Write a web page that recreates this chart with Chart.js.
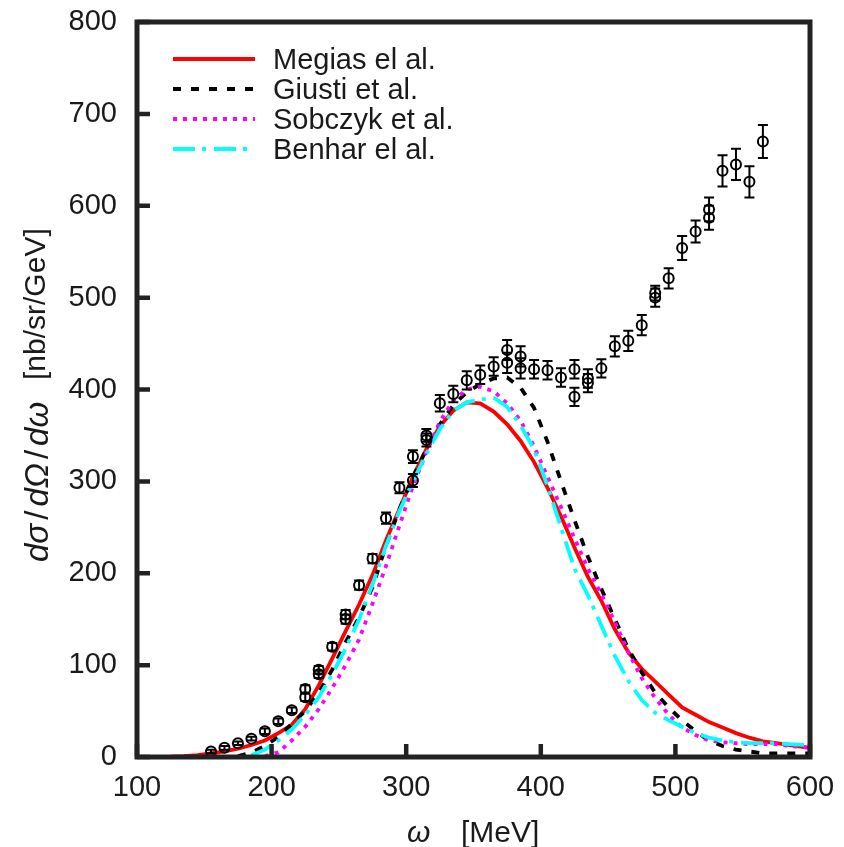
<!DOCTYPE html>
<html>
<head>
<meta charset="utf-8">
<script src="https://cdn.jsdelivr.net/npm/chart.js@4.4.0/dist/chart.umd.min.js"></script>
<style>
  html, body { margin: 0; padding: 0; background: #fff; }
  #caixa { width: 844px; height: 847px; }
</style>
</head>
<body>
<div id="caixa"><canvas id="grafico" width="844" height="847"></canvas></div>
<script>
// curvas teóricas (omega em MeV, secao de choque em nb/sr/GeV)
const omegaMegias = [125,135,145,155,165,175,185,195,205,215,225,235,245,255,265,275,285,295,305,315,325,335,345,355,365,375,385,395,405,415,425,435,445,455,465,475,485,495,505,515,525,535,545,555,565,575,585,600]
const megias = [0.5,1,2,4,6,9,13,18,26,35,52,78,107,137,166,198,236,270,305,335,360,377,386,385,376,362,344,321,293,262,228,196,170,139,114,96,82,68,54,46,38,32,26,21,17,15,13,10]

const omegaGiusti = [175,185,195,205,215,225,235,245,255,265,275,285,295,305,315,325,335,345,355,365,375,385,395,405,415,425,435,445,455,465,475,485,495,505,515,525,535,545,555,565,575,585,600]
const giusti = [1,5,12,22,36,50,70,95,125,152,185,230,270,305,335,362,383,397,406,412,413,402,380,343,300,258,218,183,150,118,92,70,54,40,28,18,12,8,6,4,4,4,4]

const omegaSobczyk = [195,205,215,225,235,245,255,265,275,285,295,305,315,325,335,345,355,365,375,385,395,405,415,425,435,445,455,465,475,485,495,505,515,525,535,545,555,565,575,585,600]
const sobczyk = [1,5,18,33,52,75,100,128,167,208,252,295,332,365,388,400,403,398,385,366,338,305,272,238,205,177,147,114,86,64,46,32,24,18,16,15,14,14,14,12,10]

const omegaBenhar = [185,195,205,215,225,235,245,255,265,275,285,295,305,315,325,335,345,355,365,375,385,395,405,415,425,435,445,455,465,475,485,495,505,515,525,535,545,555,565,575,585,600]
const benhar = [2,8,18,30,46,65,90,118,150,188,230,268,300,330,357,377,386,389,391,381,361,335,295,250,205,176,143,110,83,62,48,40,33,26,21,18,16,15,15,15,14,13]

// dados experimentais
const omegaDados = [155,165,175,185,195,205,215,225,225,235,235,245,255,255,265,275,285,295,305,305,315,315,325,335,345,355,365,375,375,385,385,395,405,415,425,425,435,435,445,455,465,475,485,485,495,505,515,525,525,535,545,555,565]
const dados = [6,10,15,20,28,39,51,65,74,90,95,120,150,155,187,216,260,293,301,327,345,350,385,395,410,416,425,443,429,436,423,422,421,413,422,392,412,407,423,447,453,470,500,505,521,554,572,587,596,638,645,626,670]
const erros = [2,2,2,2,3,3,3,4,4,4,4,4,5,5,5,5,6,6,7,7,7,7,9,9,10,10,10,11,11,11,11,10,10,10,10,10,10,10,10,11,11,11,10,8,11,13,12,13,13,17,17,17,18]

const ticksX = [100,200,300,400,500,600]
const ticksY = [0,100,200,300,400,500,600,700,800]

const fonte = 'Liberation Sans, Arial, Helvetica, sans-serif'
const corEixo = '#222'
const corTexto = '#1a1a1a'

function pares(xs, ys) {
  return xs.map((x, i) => ({ x: x, y: ys[i] }))
}

const curvas = [
  { label: 'Megias el al.', data: pares(omegaMegias, megias), borderColor: '#ff0000', borderWidth: 3.8, borderDash: [] },
  { label: 'Giusti et al.', data: pares(omegaGiusti, giusti), borderColor: '#000000', borderWidth: 3.8, borderDash: [8, 10] },
  { label: 'Sobczyk et al.', data: pares(omegaSobczyk, sobczyk), borderColor: '#ff00ff', borderWidth: 3.8, borderDash: [4, 6] },
  { label: 'Benhar el al.', data: pares(omegaBenhar, benhar), borderColor: '#00ffff', borderWidth: 3.8, borderDash: [22, 7, 4, 8] }
]

const datasets = curvas.map((c, i) => ({
  label: c.label,
  data: c.data,
  borderColor: c.borderColor,
  borderWidth: c.borderWidth,
  borderDash: c.borderDash,
  showLine: true,
  pointRadius: 0,
  tension: 0,
  fill: false,
  order: 4 - i
}))

datasets.push({
  label: 'dados',
  data: pares(omegaDados, dados),
  showLine: false,
  pointRadius: 5,
  pointStyle: 'circle',
  pointBackgroundColor: 'rgba(0,0,0,0)',
  pointBorderColor: '#000',
  pointBorderWidth: 2,
  clip: false,
  order: 0
})

// barras de erro
const barrasErro = {
  id: 'barrasErro',
  afterDatasetsDraw(chart) {
    const ctx = chart.ctx
    const sx = chart.scales.x, sy = chart.scales.y
    ctx.save()
    ctx.strokeStyle = '#000'
    ctx.lineWidth = 2
    omegaDados.forEach((w, i) => {
      const px = sx.getPixelForValue(w)
      const y1 = sy.getPixelForValue(dados[i] + erros[i])
      const y2 = sy.getPixelForValue(dados[i] - erros[i])
      ctx.beginPath()
      ctx.moveTo(px, y1); ctx.lineTo(px, y2)
      ctx.moveTo(px - 5, y1); ctx.lineTo(px + 5, y1)
      ctx.moveTo(px - 5, y2); ctx.lineTo(px + 5, y2)
      ctx.stroke()
    })
    ctx.restore()
  }
}

// moldura, tiques internos, legenda e titulos dos eixos
const moldura = {
  id: 'moldura',
  afterDraw(chart) {
    const ctx = chart.ctx
    const a = chart.chartArea
    const sx = chart.scales.x, sy = chart.scales.y
    ctx.save()
    ctx.strokeStyle = corEixo
    ctx.lineWidth = 5
    ctx.strokeRect(a.left, a.top, a.right - a.left, a.bottom - a.top)
    ctx.lineWidth = 4.5
    ctx.beginPath()
    ticksX.forEach(v => {
      const px = sx.getPixelForValue(v)
      ctx.moveTo(px, a.bottom); ctx.lineTo(px, a.bottom - 13)
    })
    ticksY.forEach(v => {
      const py = sy.getPixelForValue(v)
      ctx.moveTo(a.left, py); ctx.lineTo(a.left + 13, py)
    })
    ctx.stroke()

    // legenda
    ctx.font = '29px ' + fonte
    ctx.textBaseline = 'alphabetic'
    ctx.textAlign = 'left'
    curvas.forEach((c, i) => {
      const yy = 59 + 30 * i
      ctx.strokeStyle = c.borderColor
      ctx.lineWidth = c.borderWidth
      ctx.setLineDash(c.borderDash)
      ctx.beginPath()
      ctx.moveTo(173, yy); ctx.lineTo(255, yy)
      ctx.stroke()
      ctx.setLineDash([])
      ctx.fillStyle = corTexto
      ctx.fillText(c.label, 273, yy + 10)
    })

    // titulo eixo x
    ctx.fillStyle = corTexto
    ctx.font = 'italic 30px ' + fonte
    ctx.fillText('\u03c9', 407, 842)
    ctx.font = '30px ' + fonte
    ctx.fillText('[MeV]', 461, 842)

    // titulo eixo y
    ctx.translate(48, 562)
    ctx.rotate(-Math.PI / 2)
    let x = 0
    const partes = [['d\u03c3', true], ['/', false], ['d\u03a9', true], ['/', false], ['d\u03c9', true]]
    partes.forEach(p => {
      ctx.font = (p[1] ? 'italic ' : '') + '33px ' + fonte
      ctx.fillText(p[0], x, 0)
      x += ctx.measureText(p[0]).width + 4
    })
    ctx.font = '30px ' + fonte
    ctx.fillText('[nb/sr/GeV]', 182, -3)
    ctx.restore()
  }
}

const grafico = new Chart(document.getElementById('grafico'), {
  type: 'scatter',
  data: { datasets: datasets },
  options: {
    responsive: false,
    animation: false,
    devicePixelRatio: 1,
    layout: { padding: { top: 22, right: 34, left: 0, bottom: 0 } },
    plugins: { legend: { display: false }, tooltip: { enabled: false } },
    scales: {
      x: {
        type: 'linear', min: 100, max: 600,
        afterFit(s) { s.height = 90; s.paddingLeft = 0; s.paddingRight = 0 },
        afterBuildTicks(s) { s.ticks = ticksX.map(v => ({ value: v })) },
        grid: { display: false, drawTicks: false },
        border: { display: false },
        ticks: { padding: 14, color: corTexto, font: { family: fonte, size: 29 }, maxRotation: 0 }
      },
      y: {
        type: 'linear', min: 0, max: 800,
        afterFit(s) { s.width = 137; s.paddingTop = 0; s.paddingBottom = 0 },
        afterBuildTicks(s) { s.ticks = ticksY.map(v => ({ value: v })) },
        grid: { display: false, drawTicks: false },
        border: { display: false },
        ticks: { padding: 20, color: corTexto, font: { family: fonte, size: 29 } }
      }
    }
  },
  plugins: [barrasErro, moldura]
})
</script>
</body>
</html>
